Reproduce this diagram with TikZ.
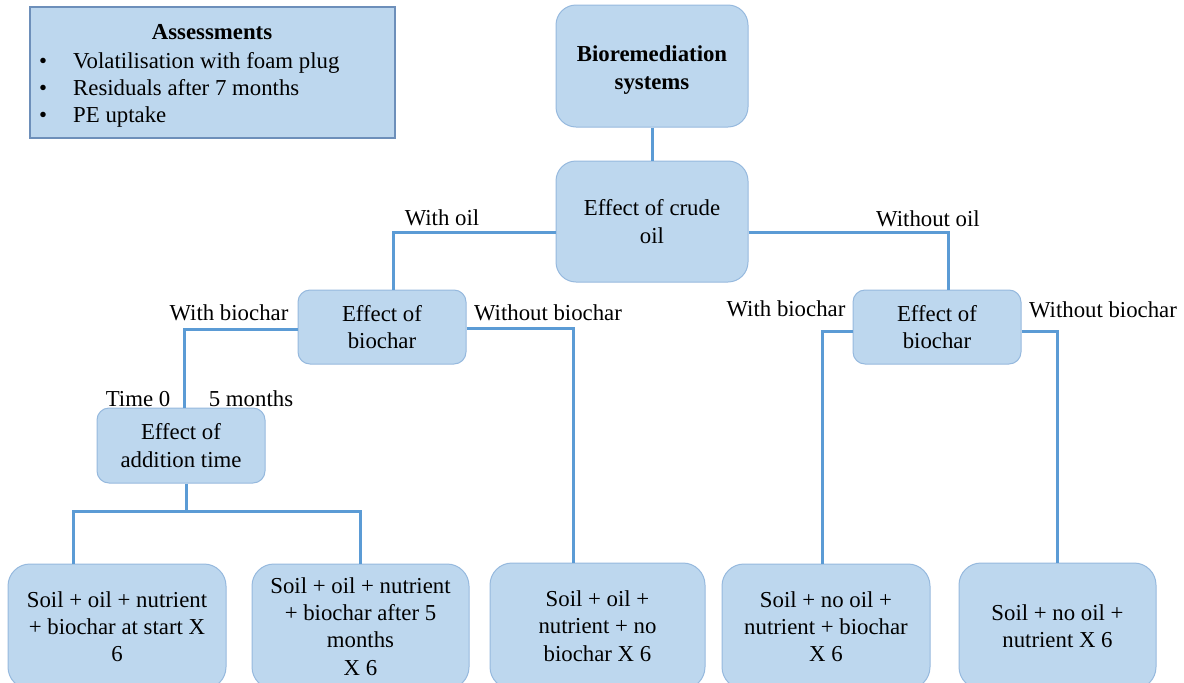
\documentclass[tikz,border=0pt]{standalone}
\usepackage{fontspec}
\setmainfont{Liberation Serif}
\definecolor{boxfill}{RGB}{189,215,238}
\definecolor{boxline}{RGB}{150,185,222}
\definecolor{assessline}{RGB}{109,143,186}
\definecolor{conn}{RGB}{91,155,213}
\begin{document}
\begin{tikzpicture}[x=1pt,y=-1pt,
  font=\fontsize{22.8}{27.3}\selectfont,
  rbox/.style={draw=boxline, fill=boxfill, line width=1pt, align=center, inner sep=0pt},
  abox/.style={draw=assessline, fill=boxfill, line width=1.6pt, inner sep=0pt},
  lbl/.style={inner sep=0pt, anchor=center},
  conn/.style={draw=conn, line width=3pt}]
\useasboundingbox (0,0) rectangle (1184,683);
\clip (0,0) rectangle (1184,683);

% Assessments box
\node[abox, minimum width=365pt, minimum height=131pt] (assess) at (212.5,72.5) {};
\node[lbl, anchor=base] (atitle) at (212,39) {\bfseries Assessments};
\node[lbl, anchor=base] (ab1) at (43,68) {•};
\node[lbl, anchor=base] (ab2) at (43,95) {•};
\node[lbl, anchor=base] (ab3) at (43,122) {•};
\node[lbl, anchor=base west] (at1) at (73,68) {Volatilisation with foam plug};
\node[lbl, anchor=base west] (at2) at (73,95) {Residuals after 7 months};
\node[lbl, anchor=base west] (at3) at (73,122) {PE uptake};

% main boxes
\node[rbox, rounded corners=20pt, minimum width=192pt, minimum height=122pt] (bio) at (652,66) {\rule{0pt}{24pt}\bfseries Bioremediation\\\bfseries systems};
\node[rbox, rounded corners=20pt, minimum width=192pt, minimum height=121pt] (crude) at (652,221.5) {Effect of crude\\oil};
\node[rbox, rounded corners=12pt, minimum width=168pt, minimum height=74pt] (bioL) at (382,327) {Effect of\\biochar};
\node[rbox, rounded corners=12pt, minimum width=168pt, minimum height=74pt] (bioR) at (937,327) {Effect of\\biochar};
\node[rbox, rounded corners=12pt, minimum width=168pt, minimum height=75pt] (addt) at (181,445.5) {Effect of\\addition time};

\node[rbox, rounded corners=22pt, minimum width=218pt, minimum height=125pt] (b1) at (117,626.5) {Soil + oil + nutrient\\+ biochar at start X\\6};
\node[rbox, rounded corners=22pt, minimum width=217pt, minimum height=125pt] (b2) at (360.5,626.5) {Soil + oil + nutrient\\+ biochar after 5\\months\\X 6};
\node[rbox, rounded corners=22pt, minimum width=215pt, minimum height=126pt] (b3) at (597.5,626) {Soil + oil +\\nutrient + no\\biochar X 6};
\node[rbox, rounded corners=22pt, minimum width=208pt, minimum height=125pt] (b4) at (826,626.5) {Soil + no oil +\\nutrient + biochar\\X 6};
\node[rbox, rounded corners=22pt, minimum width=197pt, minimum height=126pt] (b5) at (1057.5,626) {Soil + no oil +\\nutrient X 6};

% connectors
\draw[conn] (bio.south) -- (crude.north);
\draw[conn] ([yshift=-10.5pt]crude.west) -| ([xshift=11pt]bioL.north);
\draw[conn] ([yshift=-10.5pt]crude.east) -| ([xshift=11pt]bioR.north);
\draw[conn] ([yshift=-2pt]bioL.west) -| ([xshift=3pt]addt.north);
\draw[conn] ([yshift=-1pt]bioL.east) -| ([xshift=-24.5pt]b3.north);
\coordinate (split) at (186,511);
\draw[conn] (addt.south -| split) -- (split);
\draw[conn] ([xshift=-44pt]b1.north) |- (split) -| (b2.north);
\draw[conn] ([yshift=-4pt]bioR.west) -| ([xshift=-4pt]b4.north);
\draw[conn] ([yshift=-4pt]bioR.east) -| (b5.north);

% labels
\node[lbl] (lwo) at (442,218) {With oil};
\node[lbl] (lwoo) at (928,219) {Without oil};
\node[lbl] (lwbL) at (229,313) {With biochar};
\node[lbl] (lwobL) at (548,313) {Without biochar};
\node[lbl] (lwbR) at (786,309) {With biochar};
\node[lbl] (lwobR) at (1103,310) {Without biochar};
\node[lbl] (lt0) at (138,399) {Time 0};
\node[lbl] (lt5) at (251,399) {5 months};
\end{tikzpicture}
\end{document}
